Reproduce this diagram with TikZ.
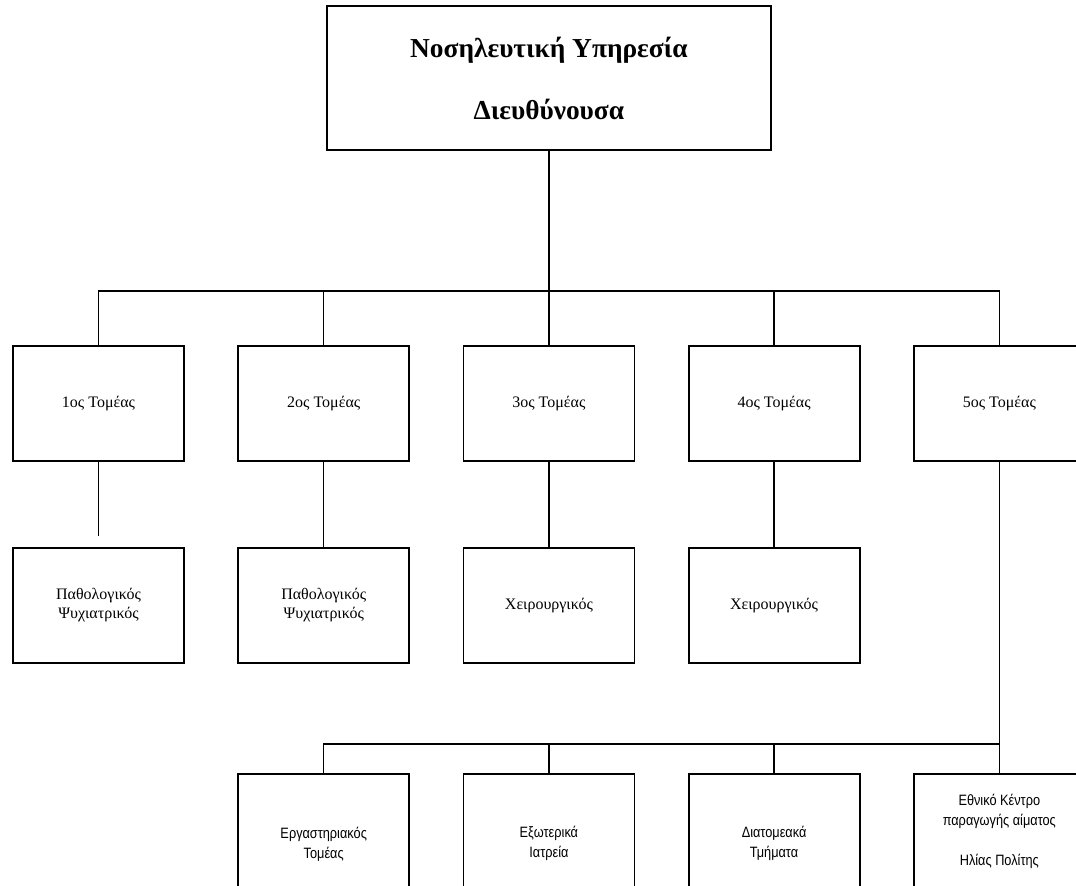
\documentclass[tikz,border=0pt]{standalone}
\usepackage{fontspec}
\setmainfont{Liberation Serif}
\newfontfamily\narrowsf[FakeStretch=0.85]{Liberation Sans}
\usetikzlibrary{positioning,calc}
\tikzset{dept/.style={draw,rectangle,line width=0.9pt,minimum width=85.5pt,minimum height=57.5pt,align=center,font=\fontsize{8}{9.5}\selectfont}}
\tikzset{unit/.style={dept,font=\narrowsf\fontsize{7.5}{10}\selectfont}}
\tikzset{tall/.style={unit,minimum height=70pt}}
\tikzset{head/.style={dept,minimum width=222pt,minimum height=72pt,font=\bfseries\fontsize{13.7}{31}\selectfont}}
\tikzset{link/.style={line width=0.7pt}}

\begin{document}
\begin{tikzpicture}[node distance=26.2pt]
        \useasboundingbox (-49.25pt,201.75pt) rectangle ++(538pt,-442.5pt);
        \node[dept] (t1) at (0,0) {1ος Τομέας};
        \node[dept] (t2) [right=of t1] {2ος Τομέας};
        \node[dept] (t3) [right=of t2] {3ος Τομέας};
        \node[dept] (t4) [right=of t3] {4ος Τομέας};
        \node[dept] (t5) [right=of t4] {5ος Τομέας};
        \node[head] (top) [above=97pt of t3] {Νοσηλευτική Υπηρεσία\\Διευθύνουσα};
        \node[dept] (p1) [below=42.5pt of t1] {Παθολογικός\\Ψυχιατρικός};
        \node[dept] (p2) [below=42.5pt of t2] {Παθολογικός\\Ψυχιατρικός};
        \node[dept] (p3) [below=42.5pt of t3] {Χειρουργικός};
        \node[dept] (p4) [below=42.5pt of t4] {Χειρουργικός};
        \node[unit] (b4) [below=155.5pt of t5] {Εθνικό Κέντρο\\παραγωγής αίματος\\[10pt]Ηλίας Πολίτης};
        \node[tall] (b3) [below left=0pt and 26.2pt of b4.north west] {Διατομεακά\\Τμήματα};
        \node[tall] (b2) [left=of b3] {Εξωτερικά\\Ιατρεία};
        \node[tall] (b1) [left=of b2] {Εργαστηριακός\\Τομέας};
        % upper tree
        \coordinate (bus1) at ($(t3.north)+(0,27pt)$);
        \draw[link] (top.south) -- (bus1);
        \draw[link] (t1.north) |- (bus1) -| (t5.north);
        \foreach \i in {2,3,4}
            \draw[link] (t\i.north) -- (t\i.north |- bus1);
        \draw (t1) edge[link, shorten >=5.5pt] (p1);
        \foreach \i in {2,3,4}
            \draw (t\i) edge[link] (p\i);
        % lower tree
        \coordinate (bus2) at ($(b4.north)+(0,14.5pt)$);
        \draw[link] (t5.south) -- (b4.north);
        \draw[link] (bus2) -| (b1.north);
        \foreach \i in {2,3}
            \draw[link] (b\i.north) -- (b\i.north |- bus2);
\end{tikzpicture}
\end{document}
